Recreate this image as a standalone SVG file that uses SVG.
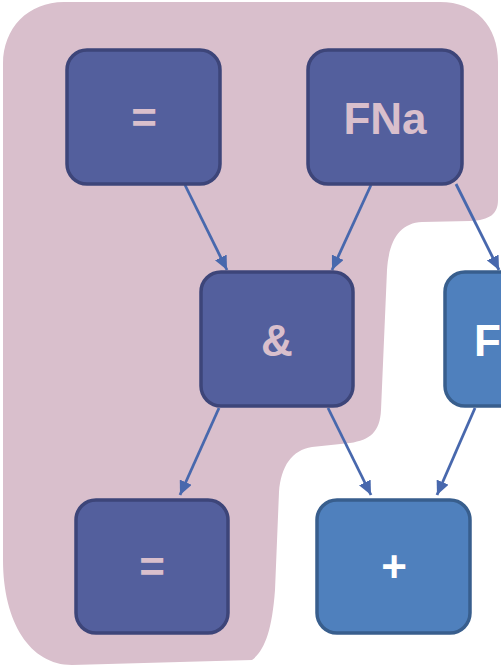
<svg xmlns="http://www.w3.org/2000/svg" width="501" height="666" viewBox="0 0 501 666">
<style>
.dark rect{fill:#535F9D;stroke:#3D4579;stroke-width:3.5}
.light rect{fill:#4F80BD;stroke:#385E8D;stroke-width:3.5}
text{font-family:"Liberation Sans",Arial,sans-serif;font-weight:bold;font-size:44px;text-anchor:middle}
.dark text{fill:#D9BFCC}
.light text{fill:#FFFFFF}
.conn line{stroke:#4868AD;stroke-width:2.8;marker-end:url(#ah)}
</style>
<defs>
<marker id="ah" markerUnits="userSpaceOnUse" markerWidth="15" markerHeight="13" refX="14" refY="6.5" orient="auto">
<path d="M0,0 L14,6.5 L0,13 Z" fill="#4868AD"/>
</marker>
</defs>
<rect width="501" height="666" fill="#FFFFFF"/>
<path id="blob" d="M64,2 L440,2 C476,2 498,26 498,62 L498,200 C498,214 490,220 470,221 L422,222 C400,223 389,240 387,270 L381,410 C380,432 370,440 350,443 L312,447 C292,450 281,466 279,492 L275,590 C272,630 265,650 252,660 L72,665 C30,665 3,622 3,560 L3,64 C3,28 28,2 64,2 Z" fill="#D9BFCC"/>
<g class="conn">
<line x1="185" y1="185" x2="227" y2="270"/>
<line x1="371" y1="185" x2="332" y2="270"/>
<line x1="456" y1="184" x2="499" y2="270"/>
<line x1="219" y1="408" x2="180" y2="495"/>
<line x1="328" y1="408" x2="371" y2="495"/>
<line x1="475" y1="408" x2="437" y2="495"/>
</g>
<g id="n1" class="dark"><rect x="67" y="50" width="153" height="134" rx="20"/><text x="144" y="133">=</text></g>
<g id="n2" class="dark"><rect x="308" y="50" width="154" height="134" rx="20"/><text x="385" y="134">FNa</text></g>
<g id="n3" class="dark"><rect x="201" y="272" width="152" height="134" rx="20"/><text x="277" y="356">&amp;</text></g>
<g id="n4" class="light"><rect x="445" y="272" width="154" height="134" rx="20"/><text x="474" y="356" style="text-anchor:start">F</text></g>
<g id="n5" class="dark"><rect x="76" y="500" width="152" height="133" rx="20"/><text x="152" y="582">=</text></g>
<g id="n6" class="light"><rect x="317" y="500" width="153" height="133" rx="20"/><text x="394" y="582">+</text></g>
</svg>
